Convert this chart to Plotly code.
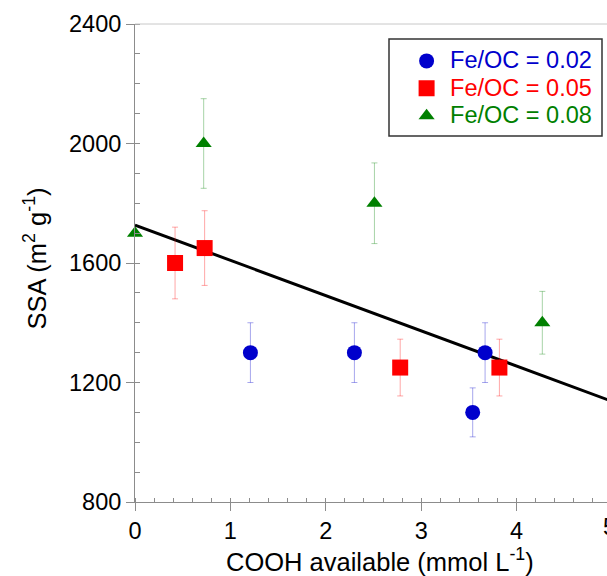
import plotly.graph_objects as go

# Fe/OC = 0.02
blue_x = [1.21, 2.30, 3.54, 3.67]
blue_y = [1300, 1300, 1100, 1300]
blue_err = [100, 100, 82, 100]

# Fe/OC = 0.05
red_x = [0.42, 0.73, 2.78, 3.82]
red_y = [1600, 1650, 1250, 1250]
red_err = [120, 125, 95, 95]

# Fe/OC = 0.08
green_x = [0.0, 0.72, 2.51, 4.27]
green_y = [1700, 2000, 1800, 1400]
green_err = [0, 150, 135, 105]

# linear fit
fit_x = [0, 5]
fit_y = [1727, 1137]

x_ticks = [0, 1, 2, 3, 4]
y_ticks = [800, 1200, 1600, 2000, 2400]

FONT = "Liberation Sans, Arial, sans-serif"
BLUE = "#0000cc"
RED = "#ff0000"
GREEN = "#008000"


def legend_name(label, color):
    return "<span style='color:%s;font-size:23.5px'>%s</span>" % (color, label)


fig = go.Figure()
fig.add_trace(go.Scatter(
    x=fit_x, y=fit_y, mode="lines", line=dict(color="black", width=3),
    showlegend=False, hoverinfo="skip"))
fig.add_trace(go.Scatter(
    x=blue_x, y=blue_y, mode="markers", cliponaxis=False,
    name=legend_name("Fe/OC = 0.02", BLUE),
    marker=dict(symbol="circle", size=15, color=BLUE),
    error_y=dict(type="data", array=blue_err, color="rgba(0,0,204,0.35)", thickness=1, width=3)))
fig.add_trace(go.Scatter(
    x=red_x, y=red_y, mode="markers", cliponaxis=False,
    name=legend_name("Fe/OC = 0.05", RED),
    marker=dict(symbol="square", size=16, color=RED),
    error_y=dict(type="data", array=red_err, color="rgba(255,0,0,0.35)", thickness=1, width=3)))
fig.add_trace(go.Scatter(
    x=green_x, y=green_y, mode="markers", cliponaxis=False,
    name=legend_name("Fe/OC = 0.08", GREEN),
    marker=dict(symbol="triangle-up", size=14, color=GREEN),
    error_y=dict(type="data", array=green_err, color="rgba(0,128,0,0.35)", thickness=1, width=3)))

axis_common = dict(
    showgrid=False, zeroline=False, showline=True, linecolor="#8c8c8c", linewidth=1,
    ticks="outside", ticklen=8, tickcolor="#8c8c8c", tickwidth=1,
    tickfont=dict(family=FONT, size=23.5, color="black"),
)
fig.update_xaxes(range=[0, 4.948], tickvals=x_ticks, ticktext=[str(v) for v in x_ticks],
                 minor=dict(dtick=0.2, ticks="inside", ticklen=4, tickcolor="#8c8c8c"),
                 **axis_common)
fig.update_yaxes(range=[800, 2400], tickvals=y_ticks, ticktext=[str(v) for v in y_ticks],
                 minor=dict(dtick=100, ticks="inside", ticklen=5, tickcolor="#8c8c8c"),
                 **axis_common)

fig.update_layout(
    width=607, height=576,
    margin=dict(l=135, r=0, t=24, b=74),
    paper_bgcolor="white", plot_bgcolor="white",
    font=dict(family=FONT, size=23.5, color="black"),
    showlegend=True,
    legend=dict(x=0.568, y=0.962, xanchor="left", yanchor="top",
                bgcolor="rgba(0,0,0,0)", borderwidth=0, itemwidth=37,
                font=dict(family=FONT, size=18.8), tracegroupgap=0),
    shapes=[
        dict(type="line", xref="paper", yref="paper", x0=0, x1=1, y0=1, y1=1,
             line=dict(color="#c8c8c8", width=1)),
        dict(type="rect", xref="paper", yref="paper",
             x0=(389 - 135) / 472, x1=(602 - 135) / 472,
             y0=(502 - 136) / 478, y1=(502 - 39) / 478,
             line=dict(color="#333333", width=1.5)),
    ],
    annotations=[
        dict(text="SSA (m<sup>2</sup> g<sup>-1</sup>)", xref="paper", yref="y",
             x=-0.212, y=1615, textangle=-90, showarrow=False,
             xanchor="center", yanchor="middle", font=dict(family=FONT, size=25.5)),
        dict(text="COOH available (mmol L<sup>-1</sup>)", xref="x", yref="paper",
             x=2.57, y=-0.122, showarrow=False, xanchor="center", yanchor="middle",
             font=dict(family=FONT, size=25.5)),
        dict(text="5", xref="paper", yref="paper", x=(609 - 135) / 472, y=-0.053,
             showarrow=False, xanchor="center", yanchor="middle",
             font=dict(family=FONT, size=23.5)),
    ],
)

fig.write_html("out.html")
